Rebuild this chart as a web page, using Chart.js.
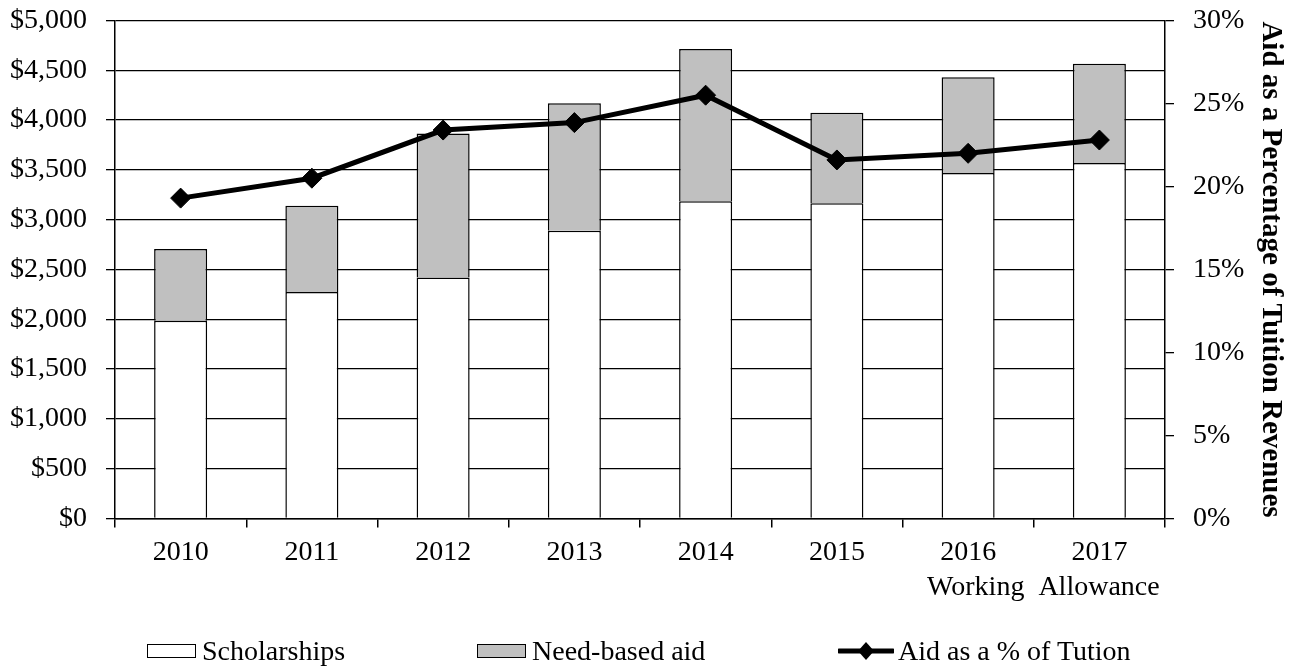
<!DOCTYPE html>
<html>
<head>
<meta charset="utf-8">
<script src="https://cdn.jsdelivr.net/npm/chart.js@4.4.0/dist/chart.umd.min.js"></script>
<style>
  html, body { margin: 0; padding: 0; background: #ffffff; }
  #wrap { position: relative; width: 1298px; height: 668px; overflow: hidden; }
  #c { position: absolute; left: 0; top: 0; }
  .lg { position: absolute; top: 633px; height: 36px; display: flex; align-items: center;
        font-family: 'Liberation Serif', 'Times New Roman', serif; font-size: 28px; color: #000; white-space: nowrap; }
  .sw { width: 47px; height: 12px; border: 1.5px solid #000; margin-right: 6px; }
</style>
</head>
<body>
<div id="wrap">
  <canvas id="c" width="1298" height="668"></canvas>
  <div class="lg" style="left:147px;"><div class="sw" style="background:#ffffff;"></div><span>Scholarships</span></div>
  <div class="lg" style="left:477px;"><div class="sw" style="background:#c0c0c0;"></div><span>Need-based aid</span></div>
  <div class="lg" style="left:838px;">
    <svg width="56" height="24" style="margin-right:4px;"><line x1="1" y1="12" x2="55" y2="12" stroke="#000" stroke-width="5" stroke-linecap="round"/><polygon points="28,3 36,12 28,21 20,12" fill="#000"/></svg><span>Aid as a % of Tution</span>
  </div>
</div>
<script>
const NB = '\u00A0';
const categories = ['2010', '2011', '2012', '2013', '2014', '2015', '2016', ['2017', 'Working  Allowance' + NB.repeat(16)]];
const scholarships = [1985, 2275, 2420, 2890, 3185, 3165, 3470, 3570];
const needBased = [720, 865, 1445, 1280, 1530, 910, 960, 995];
const aidPct = [19.3, 20.5, 23.4, 23.85, 25.5, 21.6, 22.0, 22.8];
const leftTicks = [0, 500, 1000, 1500, 2000, 2500, 3000, 3500, 4000, 4500, 5000];
const rightTicks = [0, 5, 10, 15, 20, 25, 30];

const FONT = "'Liberation Serif', 'Times New Roman', serif";

new Chart(document.getElementById('c'), {
  data: {
    labels: categories,
    datasets: [
      { type: 'line', label: 'Aid as a % of Tution', data: aidPct, yAxisID: 'y1', order: 0,
        borderColor: '#000', borderWidth: 5, tension: 0, fill: false,
        pointStyle: 'rectRot', pointRadius: 10, pointBackgroundColor: '#000', pointBorderColor: '#000', pointBorderWidth: 1 },
      { type: 'bar', label: 'Scholarships', data: scholarships, yAxisID: 'y', stack: 's', order: 1,
        backgroundColor: '#ffffff', borderColor: '#000', borderWidth: 1.5, borderSkipped: 'start',
        categoryPercentage: 1, barPercentage: 0.404 },
      { type: 'bar', label: 'Need-based aid', data: needBased, yAxisID: 'y', stack: 's', order: 1,
        backgroundColor: '#c0c0c0', borderColor: '#000', borderWidth: 1.5, borderSkipped: 'start',
        categoryPercentage: 1, barPercentage: 0.404 }
    ]
  },
  options: {
    responsive: false,
    animation: false,
    devicePixelRatio: 1,
    layout: { padding: { top: 20.5, left: 0, right: 0, bottom: 0 } },
    plugins: { legend: { display: false }, tooltip: { enabled: false } },
    scales: {
      x: {
        stacked: true,
        offset: true,
        grid: { display: true, drawOnChartArea: false, drawTicks: true, tickLength: 9, color: '#000', lineWidth: 1.5, offset: true },
        border: { display: true, color: '#000', width: 1.5 },
        ticks: { color: '#000', font: { family: FONT, size: 28, lineHeight: 1.25 }, padding: 8, maxRotation: 0, minRotation: 0, autoSkip: false },
        afterFit: s => { s.height = 149.5; s.paddingLeft = 0; s.paddingRight = 0; }
      },
      y: {
        position: 'left',
        stacked: true,
        min: 0, max: 5000,
        afterBuildTicks: s => { s.ticks = leftTicks.map(v => ({ value: v })); },
        grid: { color: '#000', lineWidth: 1.3, tickLength: 9, drawTicks: true },
        border: { display: true, color: '#000', width: 1.5 },
        ticks: { color: '#000', font: { family: FONT, size: 28 }, padding: 19,
                 callback: v => '$' + Number(v).toLocaleString('en-US') },
        afterFit: s => { s.width = 115; s.paddingTop = 0; s.paddingBottom = 0; }
      },
      y1: {
        position: 'right',
        min: 0, max: 30,
        afterBuildTicks: s => { s.ticks = rightTicks.map(v => ({ value: v })); },
        grid: { drawOnChartArea: false, color: '#000', lineWidth: 1.3, tickLength: 9, drawTicks: true },
        border: { display: true, color: '#000', width: 1.5 },
        ticks: { color: '#000', font: { family: FONT, size: 28 }, padding: 19, callback: v => v + '%' },
        title: { display: true, text: 'Aid as a Percentage of Tuition Revenues', color: '#000',
                 font: { family: FONT, size: 29, weight: 'bold' }, padding: { top: 10, bottom: 0 } },
        afterFit: s => { s.width = 133; s.paddingTop = 0; s.paddingBottom = 0; }
      }
    }
  }
});
</script>
</body>
</html>
